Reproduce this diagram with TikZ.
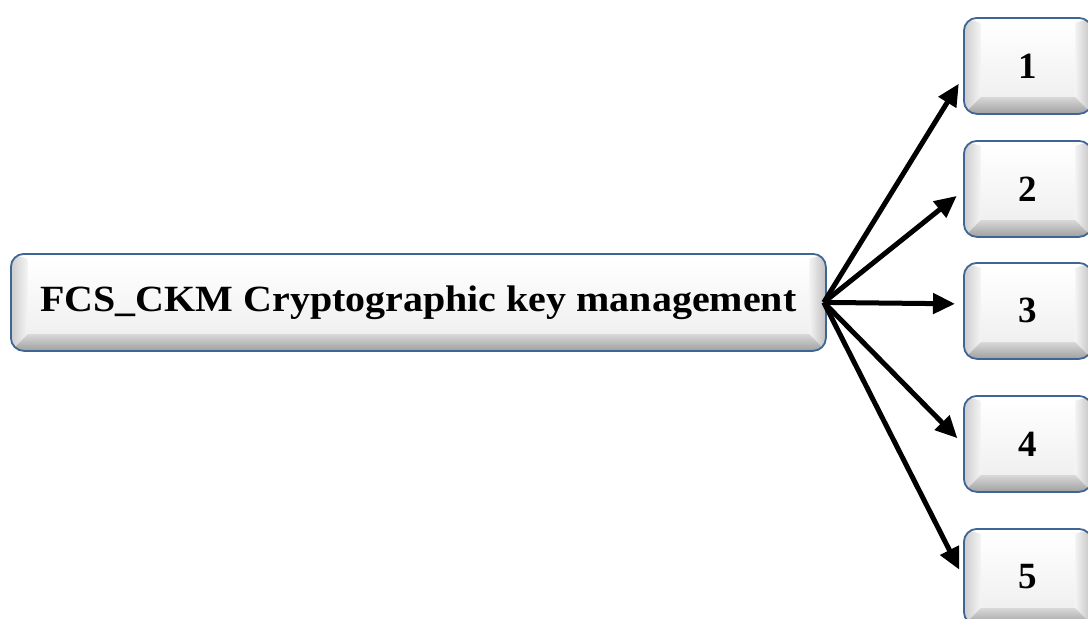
\documentclass[tikz,border=0pt]{standalone}
\usepackage{fontspec}
\setmainfont{Liberation Serif}
\usetikzlibrary{arrows.meta}
\definecolor{btnedge}{HTML}{3F6596}
\tikzset{
  button/.style={
    draw=btnedge, line width=1.8pt, rounded corners=13pt,
    inner sep=0pt, anchor=north west, font=\bfseries\fontsize{37}{42}\selectfont,
    fill=white,
    path picture={
      \coordinate (pnw) at (path picture bounding box.north west);
      \coordinate (pne) at (path picture bounding box.north east);
      \coordinate (psw) at (path picture bounding box.south west);
      \coordinate (pse) at (path picture bounding box.south east);
      \coordinate (inw) at ([xshift=17pt,yshift=-5pt]pnw);
      \coordinate (ine) at ([xshift=-17pt,yshift=-5pt]pne);
      \coordinate (isw) at ([xshift=17pt,yshift=17pt]psw);
      \coordinate (ise) at ([xshift=-17pt,yshift=17pt]pse);
      % bevelled rim: left, right, bottom, then the flat face
      \path[sharp corners, left color=gray!40, right color=gray!8]
        (psw) -- (pnw) -- (inw) -- (isw) -- cycle;
      \path[sharp corners, left color=gray!8, right color=gray!50]
        (pse) -- (pne) -- (ine) -- (ise) -- cycle;
      \path[sharp corners, top color=gray!30, bottom color=gray!75]
        (psw) -- (pse) -- (ise) -- (isw) -- cycle;
      \path[sharp corners, top color=white, bottom color=gray!12]
        (inw) -- (ine) -- (ise) -- (isw) -- cycle;
    }},
  link/.style={line width=5pt, -{Triangle[length=22pt,width=20pt]}, shorten >=8pt}
}
\begin{document}
\begin{tikzpicture}[x=1pt,y=-1pt]
  \clip (0,0) rectangle (1088,619);
  \fill[white] (0,0) rectangle (1088,619);

  \node[button, minimum width=815pt, minimum height=97pt] (main) at (10,253)
    {\raisebox{5pt}{\scalebox{1.08}[1]{FCS\_CKM Cryptographic key management}}};

  \node[button, minimum width=128pt, minimum height=96pt] (b1) at (963,17)  {1};
  \node[button, minimum width=128pt, minimum height=96pt] (b2) at (963,140) {2};
  \node[button, minimum width=128pt, minimum height=96pt] (b3) at (963,262) {3};
  \node[button, minimum width=128pt, minimum height=96pt] (b4) at (963,395) {4};
  \node[button, minimum width=128pt, minimum height=96pt] (b5) at (963,528) {5};

  \draw[link] ([xshift=-3pt]main.east) -- ([yshift=-11pt]b1.west);
  \draw[link] ([xshift=-3pt]main.east) -- ([yshift=-2pt]b2.west);
  \draw[link] ([xshift=-3pt]main.east) -- ([yshift=7pt]b3.west);
  \draw[link] ([xshift=-3pt]main.east) -- (b4.west);
  \draw[link] ([xshift=-3pt]main.east) -- (b5.west);
\end{tikzpicture}
\end{document}
